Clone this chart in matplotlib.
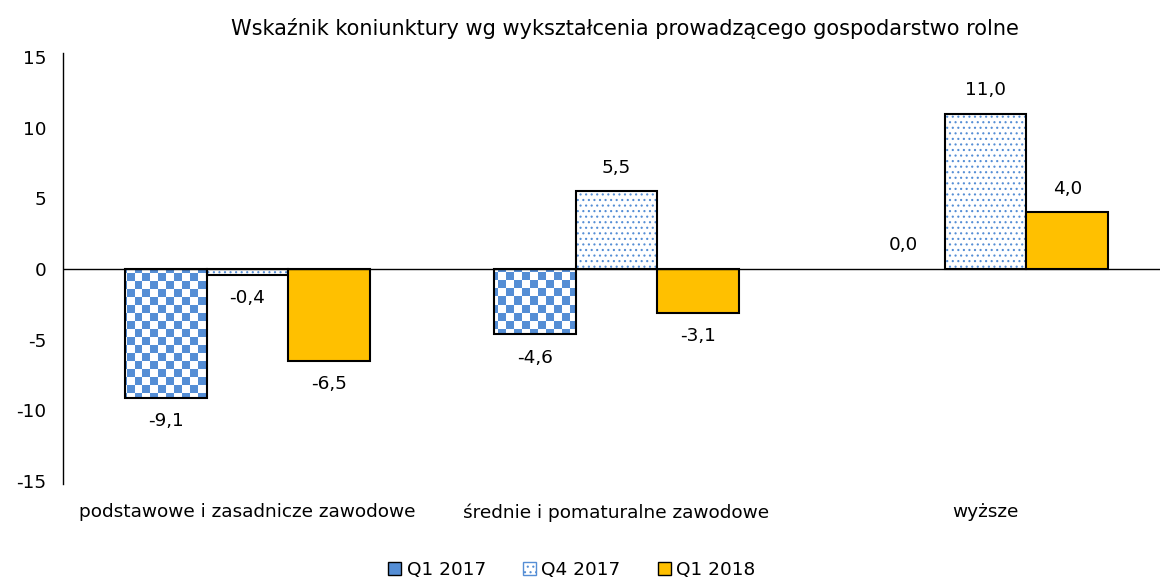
import matplotlib.pyplot as plt
import numpy as np
from matplotlib.patches import Patch
from matplotlib.colors import ListedColormap

categories = ['podstawowe i zasadnicze zawodowe', 'średnie i pomaturalne zawodowe', 'wyższe']
series = ['Q1 2017', 'Q4 2017', 'Q1 2018']
q1_2017 = [-9.1, -4.6, 0.0]
q4_2017 = [-0.4, 5.5, 11.0]
q1_2018 = [-6.5, -3.1, 4.0]

blue = '#558ED5'
gold = '#FFC000'
plt.rcParams['font.family'] = 'DejaVu Sans'
plt.rcParams['font.size'] = 13.3
plt.rcParams['axes.unicode_minus'] = False
plt.rcParams['hatch.linewidth'] = 0.8

fig = plt.figure(figsize=(11.6, 5.83), dpi=100)
ax = fig.add_axes([63 / 1160, 1 - 481 / 583, 1107 / 1160, 424 / 583])

x = np.arange(len(categories))
w = 0.222
lw = 1.5

# szachownica dla Q1 2017
ny, nx = 53, 140
checker = (np.add.outer(np.arange(ny), np.arange(nx)) % 2).astype(float)
cmap = ListedColormap(['white', blue])

b1 = ax.bar(x - w, q1_2017, w, facecolor='white', edgecolor='none', zorder=2)
for p in b1:
    if p.get_height() == 0:
        p.set_visible(False)
        continue
    im = ax.imshow(checker, cmap=cmap, extent=(-0.5, 2.5, -15, 15), aspect='auto',
                   interpolation='nearest', zorder=2.1)
    im.set_clip_path(p)
    ax.bar(p.get_x() + w / 2, p.get_height(), w, facecolor='none', edgecolor='black',
           linewidth=lw, zorder=3)

ax.bar(x, q4_2017, w, facecolor='white', edgecolor=blue, linewidth=0, hatch='...', zorder=2)
ax.bar(x, q4_2017, w, facecolor='none', edgecolor='black', linewidth=lw, zorder=3)

ax.bar(x + w, q1_2018, w, facecolor=gold, edgecolor='black', linewidth=lw, zorder=3)

ax.set_xlim(-0.5, 2.5)
ax.set_ylim(-15, 15)

for vals, off in [(q1_2017, -w), (q4_2017, 0), (q1_2018, w)]:
    for xi, v in zip(x, vals):
        txt = f'{v:.1f}'.replace('.', ',')
        dy = -17 if v < 0 else 17
        ax.annotate(txt, (xi + off, v), xytext=(0, dy), textcoords='offset points',
                    ha='center', va='center')

ax.axhline(0, color='black', linewidth=1, zorder=4)
for s in ['top', 'right', 'bottom']:
    ax.spines[s].set_visible(False)
ax.spines['left'].set_linewidth(1)
ax.spines['left'].set_bounds(-15.2, 15.3)
ax.set_yticks(range(-15, 16, 5))
ax.tick_params(axis='y', length=0, pad=12)
ax.set_xticks(x)
ax.set_xticklabels(categories)
ax.tick_params(axis='x', length=0, pad=16)

fig.text(0.539, 0.951, 'Wskaźnik koniunktury wg wykształcenia prowadzącego gospodarstwo rolne',
         ha='center', va='center', fontsize=15)

handles = [Patch(facecolor=blue, edgecolor='black'),
           Patch(facecolor='white', edgecolor=blue, hatch='...'),
           Patch(facecolor=gold, edgecolor='black')]
fig.legend(handles, series, loc='center', bbox_to_anchor=(0.493, 0.022), ncol=3, frameon=False,
           handlelength=0.7, handleheight=0.7, handletextpad=0.3, columnspacing=2.0)

fig.savefig('out.png', dpi=100)
